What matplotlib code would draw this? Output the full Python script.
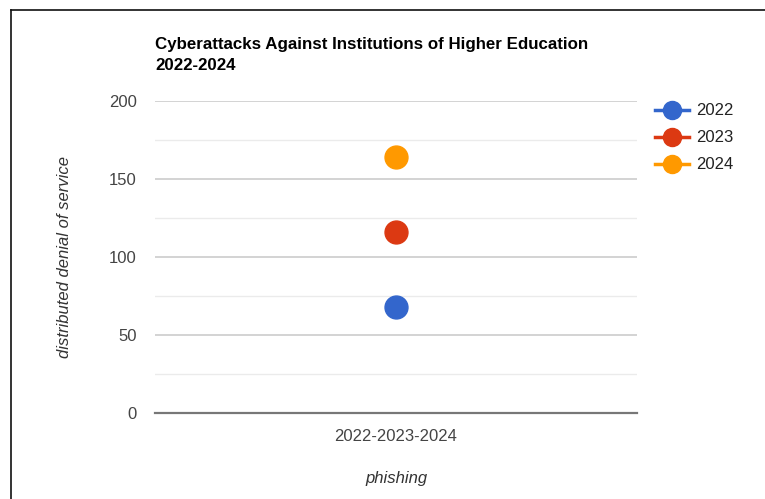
import matplotlib
matplotlib.use("Agg")
import matplotlib.pyplot as plt
from matplotlib.lines import Line2D

plt.rcParams["font.family"] = ["Liberation Sans", "DejaVu Sans"]

category = ["2022-2023-2024"]
years = ["2022", "2023", "2024"]
values = [68, 116, 164]
colors = ["#3366cc", "#dc3912", "#ff9900"]

W, H = 765, 499
fig = plt.figure(figsize=(W / 100, H / 100), dpi=100)
ax = fig.add_axes([155 / W, 1 - 413.3 / H, (637 - 155) / W, (413.3 - 101) / H])

for yr, v, c in zip(years, values, colors):
    ax.plot([0], [v], "o", color=c, markersize=16.5, label=yr, zorder=3)

ax.set_xlim(-0.5, 0.5)
ax.set_ylim(0, 200)
ax.set_yticks([0, 50, 100, 150, 200])
ax.set_yticks([25, 75, 125, 175], minor=True)
ax.grid(axis="y", which="major", color="#cccccc", lw=1.2)
ax.grid(axis="y", which="minor", color="#ebebeb", lw=1.0)
ax.set_axisbelow(True)
for s in ["top", "right", "left"]:
    ax.spines[s].set_visible(False)
ax.spines["bottom"].set_color("#777777")
ax.spines["bottom"].set_linewidth(1.6)
ax.spines["bottom"].set_zorder(2)
ax.tick_params(axis="both", which="both", length=0, labelsize=12, labelcolor="#444444")
ax.tick_params(axis="y", pad=13)
ax.tick_params(axis="x", pad=11)
ax.set_xticks([0])
ax.set_xticklabels(category)

ax.set_xlabel("phishing", fontstyle="italic", fontsize=12, color="#333333", labelpad=20)
ax.set_ylabel("distributed denial of service", fontstyle="italic", fontsize=12,
              color="#333333", labelpad=27)

fig.text(155 / W, 1 - 55 / H, "Cyberattacks Against Institutions of Higher Education\n2022-2024",
         fontsize=12.2, fontweight="bold", color="#000000", ha="left", va="center", linespacing=1.55)

handles = [Line2D([0], [0], color=c, lw=2.5, marker="o", markersize=13) for c in colors]
fig.legend(handles, years, loc="upper left", bbox_to_anchor=(652 / W, 1 - 100 / H),
           frameon=False, fontsize=12, labelcolor="#222222", handlelength=2.0,
           handletextpad=0.45, labelspacing=0.72, borderaxespad=0, borderpad=0.2)

# screenshot border (top and left edges only)
fig.add_artist(Line2D([11 / W, 11 / W], [0, 1 - 10 / H], color="#111111", lw=1.2,
                      transform=fig.transFigure))
fig.add_artist(Line2D([11 / W, 1], [1 - 10 / H, 1 - 10 / H], color="#111111", lw=1.2,
                      transform=fig.transFigure))

fig.savefig("out.png", dpi=100)
